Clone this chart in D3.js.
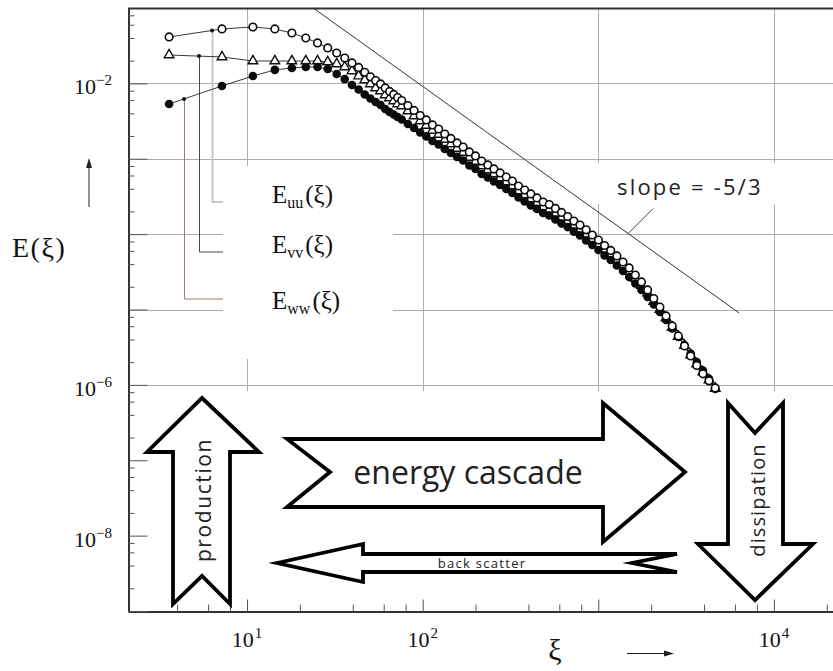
<!DOCTYPE html>
<html>
<head>
<meta charset="utf-8">
<title>E(ξ) energy spectra</title>
<script src="https://cdn.jsdelivr.net/npm/d3@7/dist/d3.min.js"></script>
<style>
html,body{margin:0;padding:0;background:#fff;}
svg{display:block;}
</style>
</head>
<body>
<svg id="chart" width="833" height="671"></svg>
<script>
// wavenumber ξ shared by the three spectra
const xi = [3.6, 7.2, 10.8, 14.4, 18, 21.6, 25.2, 28.8, 32.4, 36,
  39.6, 43.2, 46.8, 50.4, 54, 57.6, 61.2, 64.8, 68.4, 72,
  76, 82.4, 89.3, 96.8, 104.9, 113.7, 123.3, 133.6, 144.8, 157,
  170.1, 184.4, 199.9, 216.7, 234.9, 254.6, 276, 299.1, 324.2, 351.4,
  380.9, 412.9, 447.5, 485.1, 525.8, 569.9, 617.7, 669.6, 725.8, 786.7,
  852.7, 924.3, 1002, 1086, 1177, 1276, 1383, 1499, 1625, 1761,
  1909, 2069, 2243, 2431, 2635, 2856, 3096, 3356, 3637, 3942,
  4273, 4632];

// E_uu(ξ) — open circles
const Euu = [4.13e-2, 5.27e-2, 5.60e-2, 5.27e-2, 4.66e-2, 4.00e-2, 3.44e-2, 2.95e-2, 2.53e-2, 2.17e-2,
  1.87e-2, 1.63e-2, 1.40e-2, 1.22e-2, 1.09e-2, 9.82e-3, 8.69e-3, 7.81e-3, 7.13e-3, 6.50e-3,
  5.93e-3, 5.09e-3, 4.37e-3, 3.75e-3, 3.27e-3, 2.81e-3, 2.48e-3, 2.13e-3, 1.86e-3, 1.62e-3,
  1.43e-3, 1.23e-3, 1.09e-3, 9.34e-4, 8.27e-4, 7.32e-4, 6.48e-4, 5.73e-4, 5.07e-4, 4.35e-4,
  3.85e-4, 3.41e-4, 3.02e-4, 2.67e-4, 2.47e-4, 2.19e-4, 1.94e-4, 1.71e-4, 1.49e-4, 1.32e-4,
  1.14e-4, 9.74e-5, 8.36e-5, 7.07e-5, 6.07e-5, 5.13e-5, 4.27e-5, 3.56e-5, 2.87e-5, 2.32e-5,
  1.82e-5, 1.40e-5, 1.08e-5, 8.21e-6, 6.05e-6, 4.46e-6, 3.28e-6, 2.42e-6, 1.81e-6, 1.40e-6,
  1.13e-6, 9.10e-7];

// E_vv(ξ) — open triangles
const Evv = [2.38e-2, 2.24e-2, 1.98e-2, 1.98e-2, 1.98e-2, 1.98e-2, 1.98e-2, 1.92e-2, 1.81e-2, 1.65e-2,
  1.46e-2, 1.25e-2, 1.11e-2, 9.82e-3, 8.69e-3, 7.93e-3, 7.02e-3, 6.40e-3, 5.84e-3, 5.33e-3,
  5.01e-3, 4.30e-3, 3.69e-3, 3.17e-3, 2.76e-3, 2.37e-3, 2.10e-3, 1.80e-3, 1.57e-3, 1.37e-3,
  1.21e-3, 1.04e-3, 9.20e-4, 8.02e-4, 7.10e-4, 6.28e-4, 5.56e-4, 4.92e-4, 4.35e-4, 3.74e-4,
  3.31e-4, 2.93e-4, 2.59e-4, 2.29e-4, 2.12e-4, 1.88e-4, 1.66e-4, 1.49e-4, 1.30e-4, 1.15e-4,
  9.89e-5, 8.49e-5, 7.40e-5, 6.26e-5, 5.37e-5, 4.54e-5, 3.84e-5, 3.19e-5, 2.58e-5, 2.08e-5,
  1.66e-5, 1.28e-5, 1.00e-5, 7.72e-6, 5.78e-6, 4.39e-6, 3.33e-6, 2.49e-6, 1.89e-6, 1.48e-6,
  1.16e-6, 8.96e-7];

// E_ww(ξ) — filled circles
const Eww = [5.33e-3, 9.24e-3, 1.25e-2, 1.51e-2, 1.60e-2, 1.65e-2, 1.65e-2, 1.55e-2, 1.33e-2, 1.14e-2,
  9.52e-3, 8.30e-3, 7.13e-3, 6.31e-3, 5.67e-3, 5.17e-3, 4.58e-3, 4.17e-3, 3.87e-3, 3.58e-3,
  3.32e-3, 2.89e-3, 2.56e-3, 2.23e-3, 1.98e-3, 1.72e-3, 1.55e-3, 1.35e-3, 1.19e-3, 1.06e-3,
  9.49e-4, 8.14e-4, 7.32e-4, 6.28e-4, 5.65e-4, 5.00e-4, 4.49e-4, 3.97e-4, 3.52e-4, 3.06e-4,
  2.71e-4, 2.40e-4, 2.16e-4, 1.91e-4, 1.77e-4, 1.56e-4, 1.38e-4, 1.24e-4, 1.08e-4, 9.60e-5,
  8.24e-5, 7.18e-5, 6.16e-5, 5.21e-5, 4.54e-5, 3.84e-5, 3.24e-5, 2.70e-5, 2.21e-5, 1.82e-5,
  1.47e-5, 1.17e-5, 9.27e-6, 7.26e-6, 5.60e-6, 4.32e-6, 3.38e-6, 2.61e-6, 2.01e-6, 1.55e-6,
  1.20e-6, 8.82e-7];

// labelled decades
const xTickLabels = [{value: 10, exp: "1"}, {value: 100, exp: "2"}, {value: 10000, exp: "4"}];
const yTickLabels = [{value: 1e-2, exp: "−2"}, {value: 1e-6, exp: "−6"}, {value: 1e-8, exp: "−8"}];
// decades carrying grid lines
const xGrid = [10, 100, 1000, 10000];
const yGrid = [1e-2, 1e-3, 1e-4, 1e-5, 1e-6];

// -5/3 reference line, end points [ξ, E]
const slopeLine = [[23.8, 1e-1], [6340, 9.0e-6]];
const slopeText = "slope = -5/3";
const slopeLabelAt = 1480;

// legend entries and the ξ where each leader leaves its curve
const legendSubs = ["uu", "vv", "ww"];
const legendAnchorXi = [6.32, 5.33, 4.38];

const arrowTexts = ["production", "energy cascade", "back scatter", "dissipation"];

// ---------------------------------------------------------------------------
const W = 833, H = 671;
const svg = d3.select("#chart");
const serif = "'Liberation Serif','Times New Roman',serif";
const sans = "'Open Sans','DejaVu Sans',sans-serif";

const x = d3.scaleLog().domain([2.1, 21700]).range([128, 833]);
const y = d3.scaleLog().domain([1e-9, 1e-1]).range([611, 8]);

svg.append("rect").attr("width", W).attr("height", H).attr("fill", "#fff");

// grid
const grid = svg.append("g").attr("stroke", "#adadad").attr("stroke-width", 1);
grid.selectAll("line.h").data(yGrid).join("line").attr("class", "h")
  .attr("x1", 128).attr("x2", W)
  .attr("y1", d => Math.round(y(d)) + 0.5).attr("y2", d => Math.round(y(d)) + 0.5);
grid.selectAll("line.v").data(xGrid).join("line").attr("class", "v")
  .attr("x1", d => Math.round(x(d)) + 0.5).attr("x2", d => Math.round(x(d)) + 0.5)
  .attr("y1", 8).attr("y2", y(1e-6) + 6);

// blank panels behind the legend and the slope note
svg.append("rect").attr("x", 223).attr("y", 166).attr("width", 170).attr("height", 193).attr("fill", "#fff");
svg.append("rect").attr("x", 592).attr("y", 163).attr("width", 188).attr("height", 41).attr("fill", "#fff");

// axes: inward minor ticks at 2,4,6,8 and longer ticks at decades
const evenMinor = v => {
  const m = Math.round(v / Math.pow(10, Math.floor(Math.log10(v) + 1e-9)));
  return m === 2 || m === 4 || m === 6 || m === 8;
};
const isDecade = v => Math.abs(Math.log10(v) - Math.round(Math.log10(v))) < 1e-9;
const xTicksAll = x.ticks(40);
const yTicksAll = y.ticks(60);

const axB = svg.append("g").attr("transform", "translate(0,611.5)");
axB.call(d3.axisBottom(x).tickValues(xTicksAll.filter(evenMinor)).tickSize(-7).tickSizeOuter(0).tickFormat(""));
axB.append("g").call(d3.axisBottom(x).tickValues(xTicksAll.filter(isDecade)).tickSize(-12).tickSizeOuter(0).tickFormat(""))
  .select(".domain").remove();
axB.selectAll(".domain").attr("stroke", "#333").attr("stroke-width", 2);
axB.selectAll(".tick line").attr("stroke", "#555").attr("stroke-width", 1);

const axL = svg.append("g").attr("transform", "translate(128.5,0)");
axL.call(d3.axisLeft(y).tickValues(yTicksAll.filter(evenMinor)).tickSize(-6).tickSizeOuter(0).tickFormat(""));
axL.append("g").call(d3.axisLeft(y).tickValues(yTicksAll.filter(isDecade)).tickSize(-19).tickSizeOuter(0).tickFormat(""))
  .select(".domain").remove();
axL.selectAll(".domain").attr("stroke", "#333").attr("stroke-width", 2);
axL.selectAll(".tick line").attr("stroke", "#555").attr("stroke-width", 1);

// top border
svg.append("line").attr("x1", 128).attr("x2", W).attr("y1", 8.5).attr("y2", 8.5)
  .attr("stroke", "#333").attr("stroke-width", 2);

// tick labels
const xl = svg.append("g").attr("font-family", serif).attr("fill", "#111");
xTickLabels.forEach(t => {
  const tx = xl.append("text").attr("x", x(t.value)).attr("y", 647).attr("text-anchor", "middle");
  tx.append("tspan").attr("font-size", 22).text("10");
  tx.append("tspan").attr("font-size", 15).attr("dy", -9).attr("dx", 1).text(t.exp);
});
yTickLabels.forEach(t => {
  const ty = xl.append("text").attr("x", 112).attr("y", y(t.value) + 11).attr("text-anchor", "end");
  ty.append("tspan").attr("font-size", 22).text("10");
  ty.append("tspan").attr("font-size", 15).attr("dy", -9).text(t.exp);
});

// axis titles with direction arrows
svg.append("text").attr("x", 12).attr("y", 257).attr("font-family", serif)
  .attr("font-size", 28).attr("letter-spacing", 1.5).attr("fill", "#111").text("E(ξ)");
svg.append("line").attr("x1", 89).attr("x2", 89).attr("y1", 207).attr("y2", 166)
  .attr("stroke", "#222").attr("stroke-width", 1);
svg.append("path").attr("d", "M89,158 L86,168 L92,168 Z").attr("fill", "#222");

svg.append("text").attr("x", 555).attr("y", 660).attr("text-anchor", "middle").attr("font-family", serif)
  .attr("font-size", 30).attr("fill", "#111").text("ξ");
svg.append("line").attr("x1", 627).attr("x2", 666).attr("y1", 653.5).attr("y2", 653.5)
  .attr("stroke", "#222").attr("stroke-width", 1);
svg.append("path").attr("d", "M674,653.5 L664,650.5 L664,656.5 Z").attr("fill", "#222");

// -5/3 reference line and its note
svg.append("path").datum(slopeLine)
  .attr("d", d3.line().x(d => x(d[0])).y(d => y(d[1])))
  .attr("fill", "none").attr("stroke", "#333").attr("stroke-width", 1);
const sl0 = slopeLine[0], sl1 = slopeLine[1];
const slT = (Math.log10(slopeLabelAt) - Math.log10(sl0[0])) / (Math.log10(sl1[0]) - Math.log10(sl0[0]));
const slE = Math.pow(10, Math.log10(sl0[1]) + slT * (Math.log10(sl1[1]) - Math.log10(sl0[1])));
const sx = x(slopeLabelAt), sy = y(slE);
svg.append("line").attr("x1", sx).attr("y1", sy).attr("x2", sx + 25).attr("y2", sy - 25)
  .attr("stroke", "#444").attr("stroke-width", 1);
svg.append("text").attr("x", 617).attr("y", 195).attr("font-family", sans).attr("font-size", 22)
  .attr("letter-spacing", 2.2).attr("fill", "#222").text(slopeText);

// legend leaders: from a dot on each curve down and across to its name
const series = [Euu, Evv, Eww];
const leaderColors = ["#c8c8c8", "#4a4a4a", "#a47a6c"];
const leaderWidths = [2, 1, 1];
const leaderRows = [202, 252, 299];
const labelRows = [203, 253, 309];
function onCurve(vals, xv) {
  for (let i = 0; i < xi.length - 1; i++) {
    if (xv >= xi[i] && xv <= xi[i + 1]) {
      const t = (Math.log10(xv) - Math.log10(xi[i])) / (Math.log10(xi[i + 1]) - Math.log10(xi[i]));
      return Math.pow(10, Math.log10(vals[i]) + t * (Math.log10(vals[i + 1]) - Math.log10(vals[i])));
    }
  }
  return vals[0];
}
const anchors = legendAnchorXi.map((a, i) => ({xv: a, ev: onCurve(series[i], a)}));
anchors.forEach((a, i) => {
  const ax = Math.round(x(a.xv)) + 0.5;
  svg.append("path")
    .attr("d", `M${ax},${y(a.ev)} V${leaderRows[i]} H223`)
    .attr("fill", "none").attr("stroke", leaderColors[i]).attr("stroke-width", leaderWidths[i]);
});
legendSubs.forEach((s, i) => {
  const t = svg.append("text").attr("x", 272).attr("y", labelRows[i]).attr("font-family", serif)
    .attr("fill", "#111").attr("font-size", 25);
  t.append("tspan").text("E");
  t.append("tspan").attr("font-size", 16).attr("dy", 5).text(s);
  t.append("tspan").attr("dy", -5).attr("dx", 2).text("(ξ)");
});

// spectra: thin connecting lines, then markers
const lineGen = d3.line().x((d, i) => x(xi[i])).y(d => y(d));
series.forEach(vals => {
  svg.append("path").datum(vals).attr("d", lineGen)
    .attr("fill", "none").attr("stroke", "#222").attr("stroke-width", 0.9);
});
const pts = vals => vals.map((v, i) => ({xv: xi[i], ev: v}));

svg.append("g").selectAll("path").data(pts(Evv)).join("path")
  .attr("transform", d => `translate(${x(d.xv)},${y(d.ev)})`)
  .attr("d", d3.symbol(d3.symbolTriangle, 40))
  .attr("fill", "#fff").attr("stroke", "#111").attr("stroke-width", 1.4);

svg.append("g").selectAll("circle").data(pts(Eww)).join("circle")
  .attr("cx", d => x(d.xv)).attr("cy", d => y(d.ev)).attr("r", 4.3)
  .attr("fill", "#0a0a0a");

svg.append("g").selectAll("circle").data(pts(Euu)).join("circle")
  .attr("cx", d => x(d.xv)).attr("cy", d => y(d.ev)).attr("r", 3.8)
  .attr("fill", "#fff").attr("stroke", "#0a0a0a").attr("stroke-width", 1.6);

svg.append("g").selectAll("circle").data(anchors).join("circle")
  .attr("cx", d => x(d.xv)).attr("cy", d => y(d.ev)).attr("r", 2).attr("fill", "#111");

// cascade arrows
const arrowShapes = [
  [[202,398],[259,452],[230,452],[230,604],[202,576],[173,604],[173,452],[147,452]],
  [[287,439],[603,439],[603,403],[685,472],[603,542],[603,507],[287,507],[330,472]],
  [[277,563],[363,544],[363,554],[677,554],[632,563],[677,572],[363,572],[363,582]],
  [[728,403],[755,433],[783,403],[783,544],[813,544],[755,600],[698,544],[728,544]]
];
svg.append("g").selectAll("path").data(arrowShapes).join("path")
  .attr("d", d => "M" + d.map(p => p.join(",")).join("L") + "Z")
  .attr("fill", "#fff").attr("stroke", "#000").attr("stroke-width", 3.8)
  .attr("stroke-linejoin", "miter").attr("stroke-miterlimit", 10);

const at = svg.append("g").attr("font-family", sans).attr("fill", "#222");
at.append("text").attr("transform", "translate(203,500) rotate(-90)").attr("text-anchor", "middle")
  .attr("dominant-baseline", "central").attr("font-size", 21).attr("letter-spacing", 1.6).text(arrowTexts[0]);
at.append("text").attr("x", 468).attr("y", 484).attr("text-anchor", "middle")
  .attr("font-size", 32).text(arrowTexts[1]);
at.append("text").attr("x", 482).attr("y", 568).attr("text-anchor", "middle")
  .attr("font-size", 13).attr("letter-spacing", 1.3).text(arrowTexts[2]);
at.append("text").attr("transform", "translate(757,500) rotate(-90)").attr("text-anchor", "middle")
  .attr("dominant-baseline", "central").attr("font-size", 20).attr("letter-spacing", 1.1).text(arrowTexts[3]);
</script>
</body>
</html>
